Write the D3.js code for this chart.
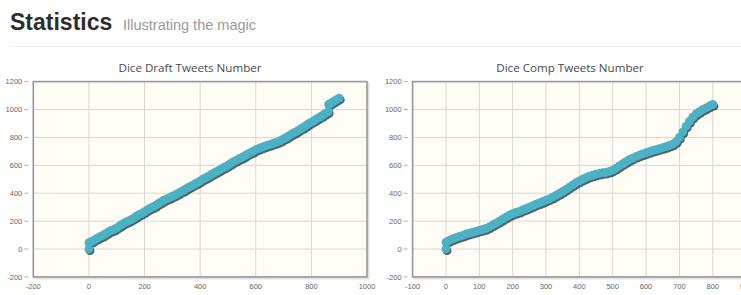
<!DOCTYPE html>
<html lang="en">
<head>
<meta charset="UTF-8">
<title>Statistics</title>
<script src="https://d3js.org/d3.v7.min.js"></script>
<style>
  body { margin: 0; background: #fff; overflow: hidden; }
  svg { display: block; }
  .tick-label { font-family: "Liberation Sans", Arial, sans-serif; font-size: 7.5px; fill: #666; }
  .chart-title { font-family: "Open Sans", sans-serif; font-size: 11.6px; fill: #4a4a4a; }
</style>
</head>
<body>
<svg width="741" height="295"></svg>
<script>
// chart data (first point of each series sits at 0,0)
const draftX = [0,
  0, 10, 20, 30, 40, 50, 60, 70, 80, 90, 100, 110, 120, 130, 140, 150, 160, 170, 180, 190,
  200, 210, 220, 230, 240, 250, 260, 270, 280, 290, 300, 310, 320, 330, 340, 350, 360, 370, 380, 390,
  400, 410, 420, 430, 440, 450, 460, 470, 480, 490, 500, 510, 520, 530, 540, 550, 560, 570, 580, 590,
  600, 610, 620, 630, 640, 650, 660, 670, 680, 690, 700, 710, 720, 730, 740, 750, 760, 770, 780, 790,
  800, 810, 820, 830, 840, 850, 860, 862, 870, 880, 890, 900];
const draftY = [0,
  45, 55, 66, 78, 88, 98, 110, 122, 133, 141, 152, 166, 178, 190, 200, 209, 220, 234, 246, 256,
  268, 281, 292, 301, 312, 326, 338, 350, 360, 368, 378, 387, 398, 410, 420, 432, 444, 455, 466, 476,
  488, 501, 512, 522, 534, 546, 556, 567, 580, 589, 600, 614, 626, 636, 648, 657, 668, 680, 690, 700,
  712, 720, 728, 735, 742, 748, 756, 762, 770, 779, 790, 800, 812, 825, 836, 847, 860, 871, 884, 898,
  910, 921, 934, 946, 958, 972, 985, 1036, 1046, 1058, 1070, 1082];

const compX = [0,
  0, 10, 20, 30, 40, 50, 60, 70, 80, 90, 100, 110, 120, 130, 140, 150, 160, 170, 180, 190,
  200, 210, 220, 230, 240, 250, 260, 270, 280, 290, 300, 310, 320, 330, 340, 350, 360, 370, 380, 390,
  400, 410, 420, 430, 440, 450, 460, 470, 480, 490, 500, 510, 520, 530, 540, 550, 560, 570, 580, 590,
  600, 610, 620, 630, 640, 650, 660, 670, 680, 690, 700, 710, 720, 730, 740, 750, 760, 770, 780, 790,
  800];
const compY = [0,
  50, 62, 72, 82, 90, 98, 106, 113, 120, 127, 134, 140, 148, 159, 172, 186, 200, 214, 228, 242,
  254, 262, 270, 281, 290, 300, 310, 321, 330, 340, 350, 360, 372, 385, 398, 413, 428, 444, 460, 475,
  488, 500, 512, 522, 530, 537, 542, 547, 550, 556, 566, 580, 596, 611, 626, 640, 652, 663, 672, 682,
  690, 698, 706, 713, 720, 727, 734, 742, 752, 770, 800, 840, 880, 915, 945, 968, 985, 1000, 1012, 1025,
  1036];

const yTicks = [-200, 0, 200, 400, 600, 800, 1000, 1200];
const draftXTicks = [-200, 0, 200, 400, 600, 800, 1000];
const compXTicks = [-100, 0, 100, 200, 300, 400, 500, 600, 700, 800, 900];

const svg = d3.select("svg");

// page header
svg.append("text")
  .attr("x", 10).attr("y", 30)
  .style("font-family", "'Liberation Sans', Arial, sans-serif")
  .style("font-weight", "bold").style("font-size", "23px").style("fill", "#2d2d2d")
  .text("Statistics");
svg.append("text")
  .attr("x", 123).attr("y", 30)
  .style("font-family", "'Liberation Sans', Arial, sans-serif")
  .style("font-size", "14.5px").style("fill", "#999")
  .text("Illustrating the magic");
svg.append("line")
  .attr("x1", 10).attr("x2", 741).attr("y1", 46.5).attr("y2", 46.5)
  .attr("stroke", "#eee").attr("stroke-width", 1.2);

function drawChart(opts) {
  const x = d3.scaleLinear().domain(opts.xDomain).range(opts.xRange);
  const y = d3.scaleLinear().domain([-200, 1200]).range([276.9, 81.6]);
  const [left, right] = opts.xRange;
  const top = y(1200), bottom = y(-200);
  const pts = opts.xs.map((v, i) => [v, opts.ys[i]]);
  const g = svg.append("g");

  g.append("text").attr("class", "chart-title")
    .attr("x", opts.titleX).attr("y", 72)
    .attr("text-anchor", "middle")
    .text(opts.title);

  // border shadow
  g.append("rect")
    .attr("x", left + 1.5).attr("y", top + 1.5)
    .attr("width", right - left).attr("height", bottom - top)
    .attr("fill", "none").attr("stroke", "#000").attr("stroke-opacity", 0.12).attr("stroke-width", 2);

  g.append("rect")
    .attr("x", left).attr("y", top)
    .attr("width", right - left).attr("height", bottom - top)
    .attr("fill", "#fffdf6");

  // grid
  g.selectAll(".vgrid").data(opts.xTicks).join("line")
    .attr("x1", d => x(d)).attr("x2", d => x(d))
    .attr("y1", top).attr("y2", bottom)
    .attr("stroke", "#d8d8d4").attr("stroke-width", 1);
  g.selectAll(".hgrid").data(yTicks).join("line")
    .attr("x1", left).attr("x2", right)
    .attr("y1", d => y(d)).attr("y2", d => y(d))
    .attr("stroke", "#d8d8d4").attr("stroke-width", 1);

  g.append("rect")
    .attr("x", left).attr("y", top)
    .attr("width", right - left).attr("height", bottom - top)
    .attr("fill", "none").attr("stroke", "#999").attr("stroke-width", 1.6);

  // y ticks and labels
  g.selectAll(".ymark").data(yTicks).join("line")
    .attr("x1", left - 9).attr("x2", left - 5)
    .attr("y1", d => y(d)).attr("y2", d => y(d))
    .attr("stroke", "#999").attr("stroke-width", 0.8);
  g.selectAll(".ylab").data(yTicks).join("text")
    .attr("class", "tick-label")
    .attr("x", left - 11).attr("y", d => y(d) + 2.6)
    .attr("text-anchor", "end")
    .text(d => d);

  // x labels
  g.selectAll(".xlab").data(opts.xTicks).join("text")
    .attr("class", "tick-label")
    .attr("x", d => x(d)).attr("y", 289)
    .attr("text-anchor", "middle")
    .text(d => d);

  const line = d3.line().x(d => x(d[0])).y(d => y(d[1]));

  // series shadow
  const sh = g.append("g").attr("opacity", 0.72).attr("transform", "translate(1.1,1.7)");
  sh.append("path").attr("d", line(pts))
    .attr("fill", "none").attr("stroke", "#000").attr("stroke-width", 2.5);
  sh.selectAll("circle").data(pts).join("circle")
    .attr("cx", d => x(d[0])).attr("cy", d => y(d[1])).attr("r", 4.4)
    .attr("fill", "#0d2a30");

  // series
  g.append("path").attr("d", line(pts))
    .attr("fill", "none").attr("stroke", "#4bb2c5").attr("stroke-width", 2.5);
  g.selectAll(".pt").data(pts).join("circle")
    .attr("cx", d => x(d[0])).attr("cy", d => y(d[1])).attr("r", 4.4)
    .attr("fill", "#4bb2c5");
}

drawChart({
  title: "Dice Draft Tweets Number", titleX: 190,
  xs: draftX, ys: draftY, xTicks: draftXTicks,
  xDomain: [-200, 1000], xRange: [33.3, 367]
});
drawChart({
  title: "Dice Comp Tweets Number", titleX: 570,
  xs: compX, ys: compY, xTicks: compXTicks,
  xDomain: [-100, 900], xRange: [412.6, 746.1]
});
</script>
</body>
</html>
